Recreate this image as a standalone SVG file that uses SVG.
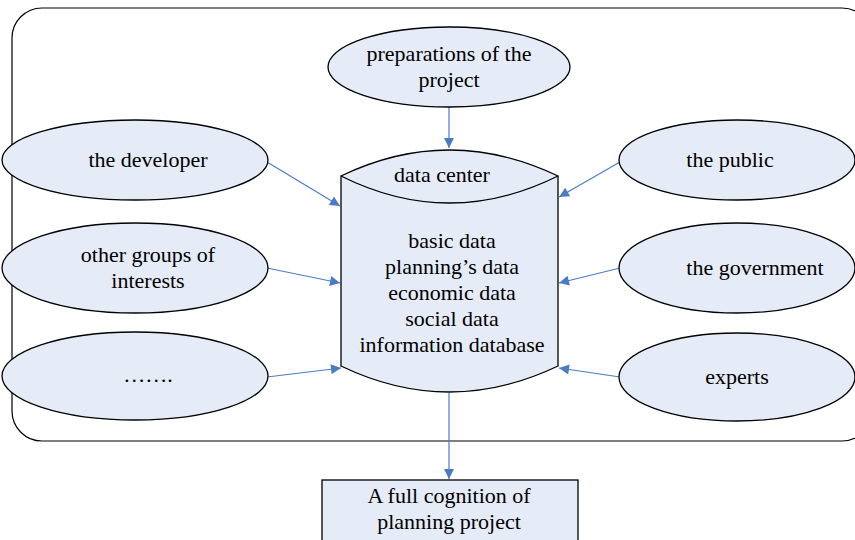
<svg xmlns="http://www.w3.org/2000/svg" width="855" height="540" viewBox="0 0 855 540">
<style>
.n{fill:#e6ecf7;stroke:#000;stroke-width:1.3}
.t{font-family:"Liberation Serif",serif;font-size:22px;fill:#000;text-anchor:middle}
.c{stroke:#4a7cc4;stroke-width:1.2;fill:none;marker-end:url(#a)}
</style>
<defs>
<marker id="a" viewBox="0 0 10 10" refX="10" refY="5" markerWidth="14" markerHeight="10" markerUnits="userSpaceOnUse" orient="auto">
<path d="M0,0 L10,5 L0,10 z" fill="#4a7cc4"/>
</marker>
</defs>
<rect id="frame" x="12" y="8" width="860" height="433" rx="30" ry="30" fill="none" stroke="#000" stroke-width="1.2"/>
<g id="connectors">
<line class="c" x1="449" y1="107" x2="449" y2="148"/>
<line class="c" x1="267" y1="162" x2="340" y2="206"/>
<line class="c" x1="267" y1="268" x2="340" y2="283"/>
<line class="c" x1="267" y1="377" x2="341" y2="368"/>
<line class="c" x1="620" y1="162" x2="559" y2="197"/>
<line class="c" x1="620" y1="268" x2="559" y2="283"/>
<line class="c" x1="620" y1="377" x2="559" y2="368"/>
<line class="c" x1="449" y1="393" x2="449" y2="479"/>
</g>
<g id="preparations">
<ellipse class="n" cx="449" cy="67" rx="121" ry="40"/>
<text class="t" x="449" y="61">preparations of the</text>
<text class="t" x="449" y="87">project</text>
</g>
<g id="developer">
<ellipse class="n" cx="135" cy="160" rx="133" ry="40"/>
<text class="t" x="148" y="167">the developer</text>
</g>
<g id="other-groups">
<ellipse class="n" cx="135" cy="268" rx="133" ry="45"/>
<text class="t" x="148" y="262">other groups of</text>
<text class="t" x="148" y="288">interests</text>
</g>
<g id="etc">
<ellipse class="n" cx="135" cy="376" rx="133" ry="44"/>
<text class="t" x="148" y="382">…….</text>
</g>
<g id="public">
<ellipse class="n" cx="737" cy="160" rx="118" ry="40"/>
<text class="t" x="730" y="167">the public</text>
</g>
<g id="government">
<ellipse class="n" cx="737" cy="268" rx="118" ry="45"/>
<text class="t" x="755" y="275">the government</text>
</g>
<g id="experts">
<ellipse class="n" cx="737" cy="377" rx="118" ry="44"/>
<text class="t" x="737" y="384">experts</text>
</g>
<g id="data-center">
<path class="n" d="M341,176 Q449,124 558,176 L558,366 Q449,418 341,366 Z"/>
<path class="n" d="M341,176 Q449,230 558,176" fill="none"/>
<text class="t" x="442" y="182">data center</text>
<text class="t" x="452" y="248">basic data</text>
<text class="t" x="452" y="274">planning’s data</text>
<text class="t" x="452" y="300">economic data</text>
<text class="t" x="452" y="326">social data</text>
<text class="t" x="452" y="352">information database</text>
</g>
<g id="cognition">
<rect class="n" x="322" y="480" width="256" height="70"/>
<text class="t" x="449" y="503">A full cognition of</text>
<text class="t" x="449" y="529">planning project</text>
</g>
</svg>
